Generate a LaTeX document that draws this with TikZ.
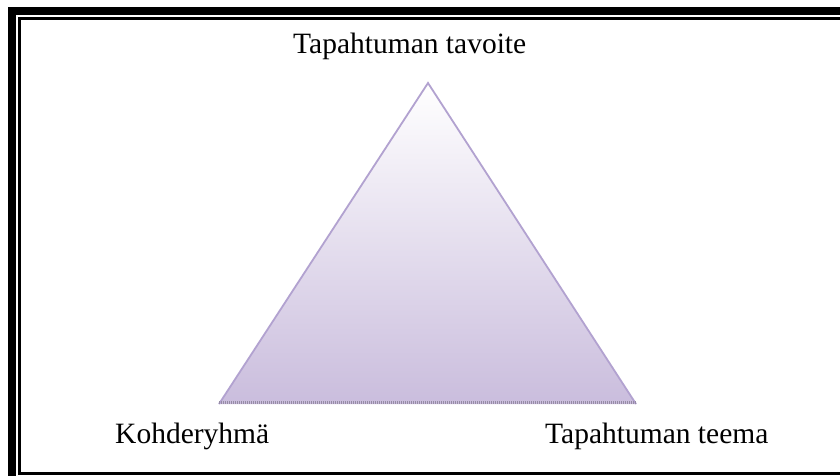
\documentclass[tikz,border=0pt]{standalone}
\usepackage{fontspec}
\setmainfont{Liberation Serif}
\definecolor{triedge}{RGB}{178,162,208}
\definecolor{tribot}{RGB}{202,189,221}
\definecolor{basedot}{RGB}{150,140,165}
\tikzset{
  lbl/.style={font=\fontsize{29.5}{34}\selectfont, inner sep=0pt, anchor=base west},
  frameouter/.style={draw=black, line width=8pt},
  frameinner/.style={draw=black, line width=3pt},
}
\begin{document}
\begin{tikzpicture}[x=1pt,y=-1pt]
\useasboundingbox (0,0) rectangle (840,476);
\clip (0,0) rectangle (840,476);
\fill[white] (0,0) rectangle (840,476);
\draw[frameouter] (12,11) rectangle (870,500);
\draw[frameinner] (19.5,18.5) rectangle (852,473);
\coordinate (apex) at (428,83);
\coordinate (bl) at (219,404);
\coordinate (br) at (636,404);
\shade[top color=white, bottom color=tribot] (apex) -- (br) -- (bl) -- cycle;
\draw[triedge, line width=1.8pt, line join=miter] (bl) -- (apex) -- (br);
\draw[basedot, line width=2.5pt, dash pattern=on 1pt off 1pt] ([yshift=1.5pt]bl) -- ([yshift=1.5pt]br);
\node[lbl] (goal) at (293,54) {Tapahtuman tavoite};
\node[lbl] (group) at (115,443) {Kohderyhmä};
\node[lbl] (theme) at (545,443) {Tapahtuman teema};
\end{tikzpicture}
\end{document}
